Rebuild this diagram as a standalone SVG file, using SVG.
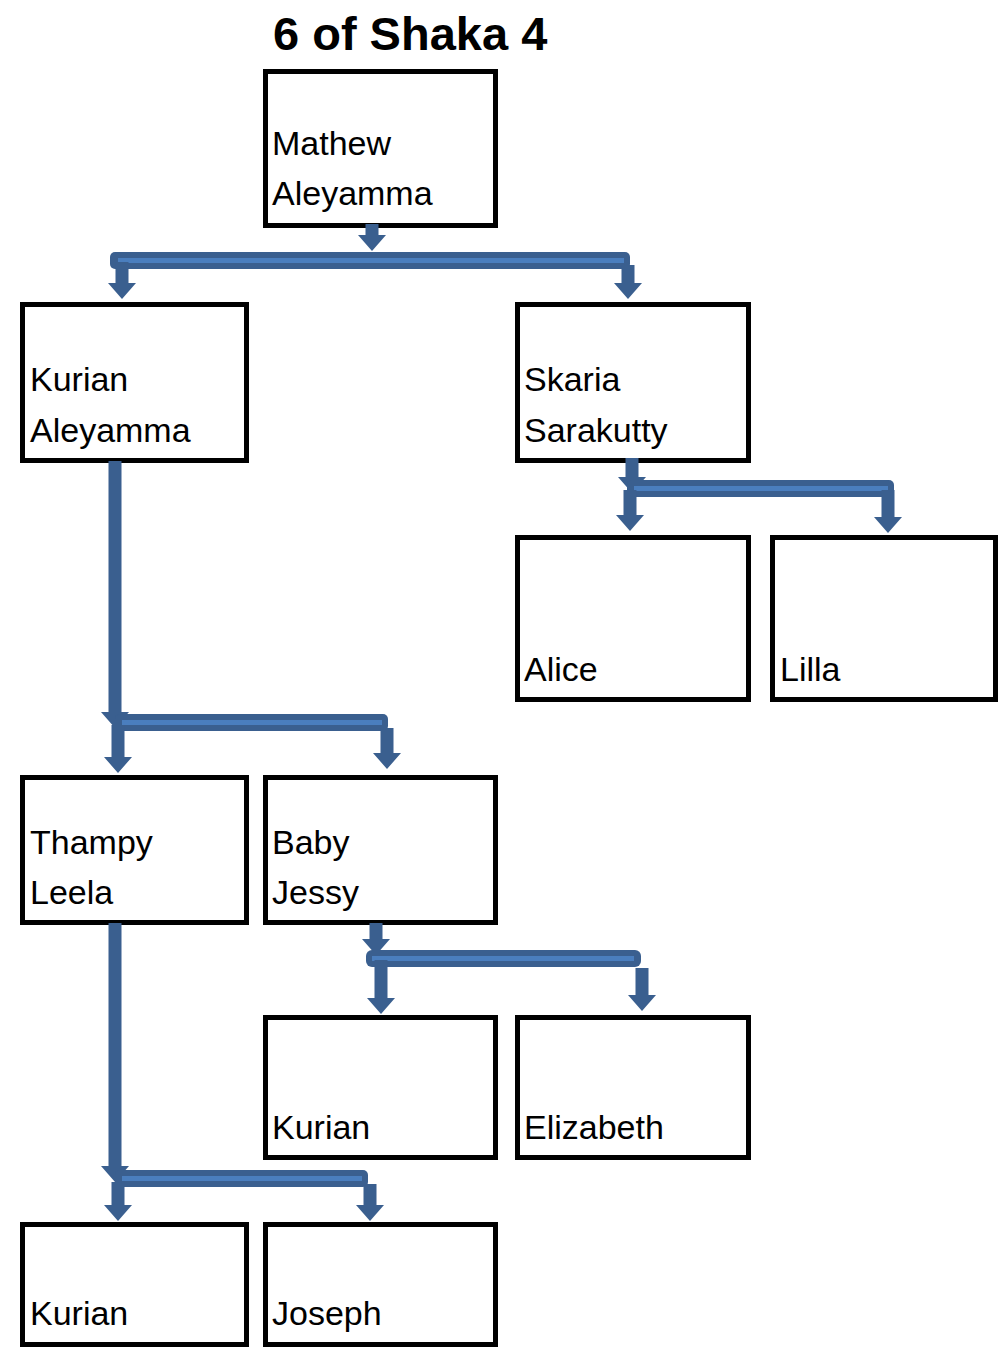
<svg xmlns="http://www.w3.org/2000/svg" width="1000" height="1348" viewBox="0 0 1000 1348">
<style>
.box{fill:#fff;stroke:#000;stroke-width:5}
.t{font-family:"Liberation Sans",Arial,sans-serif;font-size:34px;fill:#000}
.title{font-family:"Liberation Sans",Arial,sans-serif;font-size:47px;font-weight:bold;fill:#000}
.bar{fill:#3A5F8F}
.inner{fill:#4A7EBE}
.arr{fill:#3A5F8F}
</style>
<rect width="1000" height="1348" fill="#fff"/>
<text class="title" x="273" y="50">6 of Shaka 4</text>

<g id="n-mathew"><rect class="box" x="265.5" y="71.5" width="230" height="154"/><text class="t" x="272" y="155">Mathew</text><text class="t" x="272" y="205">Aleyamma</text></g>
<g id="n-kurian1"><rect class="box" x="22.5" y="304.5" width="224" height="156"/><text class="t" x="30" y="391">Kurian</text><text class="t" x="30" y="442">Aleyamma</text></g>
<g id="n-skaria"><rect class="box" x="517.5" y="304.5" width="231" height="156"/><text class="t" x="524" y="391">Skaria</text><text class="t" x="524" y="442">Sarakutty</text></g>
<g id="n-alice"><rect class="box" x="517.5" y="537.5" width="231" height="162"/><text class="t" x="524" y="681">Alice</text></g>
<g id="n-lilla"><rect class="box" x="772.5" y="537.5" width="223" height="162"/><text class="t" x="780" y="681">Lilla</text></g>
<g id="n-thampy"><rect class="box" x="22.5" y="777.5" width="224" height="145"/><text class="t" x="30" y="854">Thampy</text><text class="t" x="30" y="904">Leela</text></g>
<g id="n-baby"><rect class="box" x="265.5" y="777.5" width="230" height="145"/><text class="t" x="272" y="854">Baby</text><text class="t" x="272" y="904">Jessy</text></g>
<g id="n-kurian2"><rect class="box" x="265.5" y="1017.5" width="230" height="140"/><text class="t" x="272" y="1139">Kurian</text></g>
<g id="n-elizabeth"><rect class="box" x="517.5" y="1017.5" width="231" height="140"/><text class="t" x="524" y="1139">Elizabeth</text></g>
<g id="n-kurian3"><rect class="box" x="22.5" y="1224.5" width="224" height="120"/><text class="t" x="30" y="1325">Kurian</text></g>
<g id="n-joseph"><rect class="box" x="265.5" y="1224.5" width="230" height="120"/><text class="t" x="272" y="1325">Joseph</text></g>

<g id="connectors">
<!-- Mathew -> children -->
<polygon class="arr" points="365.5,224 378.5,224 378.5,235 386,235 372,251 358,235 365.5,235"/>
<rect class="bar" x="110" y="252" width="520" height="17" rx="5"/>
<rect class="inner" x="118" y="258" width="506" height="5"/>
<polygon class="arr" points="115.5,262 128.5,262 128.5,283 136,283 122,299 108,283 115.5,283"/>
<polygon class="arr" points="621.5,265 634.5,265 634.5,283 642,283 628,299 614,283 621.5,283"/>
<!-- Skaria -> children -->
<polygon class="arr" points="625.5,458 638.5,458 638.5,477 646,477 632,493 618,477 625.5,477"/>
<rect class="bar" x="627" y="480" width="267" height="17" rx="5"/>
<rect class="inner" x="634" y="486" width="254" height="5"/>
<polygon class="arr" points="623.5,490 636.5,490 636.5,515 644,515 630,531 616,515 623.5,515"/>
<polygon class="arr" points="881.5,490 894.5,490 894.5,517 902,517 888,533 874,517 881.5,517"/>
<!-- Kurian Aleyamma -> children -->
<polygon class="arr" points="108.5,461 121.5,461 121.5,712 129,712 115,728 101,712 108.5,712"/>
<rect class="bar" x="115" y="714" width="273" height="17" rx="5"/>
<rect class="inner" x="122" y="720" width="260" height="5"/>
<polygon class="arr" points="111.5,725 124.5,725 124.5,757 132,757 118,773 104,757 111.5,757"/>
<polygon class="arr" points="380.5,728 393.5,728 393.5,753 401,753 387,769 373,753 380.5,753"/>
<!-- Baby Jessy -> children -->
<polygon class="arr" points="369.5,923 382.5,923 382.5,939 390,939 376,955 362,939 369.5,939"/>
<rect class="bar" x="366" y="950" width="275" height="17" rx="6"/>
<rect class="inner" x="372" y="956" width="262" height="5"/>
<polygon class="arr" points="374.5,960 387.5,960 387.5,998 395,998 381,1014 367,998 374.5,998"/>
<polygon class="arr" points="635.5,968 648.5,968 648.5,995 656,995 642,1011 628,995 635.5,995"/>
<!-- Thampy Leela -> children -->
<polygon class="arr" points="108.5,923 121.5,923 121.5,1166 129,1166 115,1182 101,1166 108.5,1166"/>
<rect class="bar" x="115" y="1170" width="253" height="17" rx="5"/>
<rect class="inner" x="122" y="1176" width="240" height="5"/>
<polygon class="arr" points="111.5,1182 124.5,1182 124.5,1205 132,1205 118,1221 104,1205 111.5,1205"/>
<polygon class="arr" points="363.5,1184 376.5,1184 376.5,1205 384,1205 370,1221 356,1205 363.5,1205"/>
</g>
</svg>
